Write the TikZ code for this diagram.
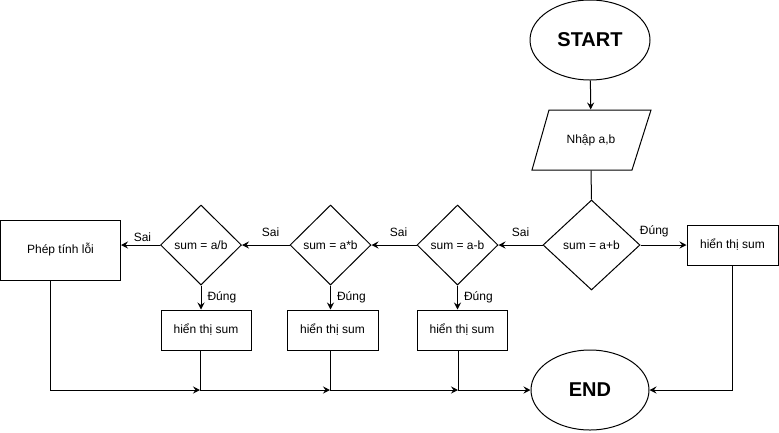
\documentclass[tikz,border=0pt]{standalone}
\usepackage{fontspec}
\setmainfont{Liberation Sans}
\usetikzlibrary{shapes.geometric,arrows.meta}
\begin{document}
\begin{tikzpicture}[x=1pt,y=-1pt,
  every node/.style={font=\fontsize{12}{14}\selectfont, inner sep=0pt},
  term/.style={draw, ellipse, font=\fontsize{20}{24}\selectfont\bfseries},
  dec/.style={draw, diamond, minimum width=81, minimum height=80},
  box/.style={draw, rectangle, minimum width=90, minimum height=40},
  lbl/.style={font=\fontsize{12}{14}\selectfont},
  arr/.style={-{Stealth[length=7pt,width=7pt,inset=2.5pt]}},
  line width=1pt]
\useasboundingbox (0,0) rectangle (779,432);
\node[term, minimum width=120, minimum height=80] (start) at (590,40) {START};
\draw (549,110) -- (651,110) -- (632,170) -- (532,170) -- cycle;
\node[minimum width=100, minimum height=60] (in) at (591,140) {Nhập a,b};
\node[dec, minimum width=97, minimum height=90] (d1) at (591.5,245) {sum = a+b};
\node[dec] (d2) at (457.5,245) {sum = a-b};
\node[dec] (d3) at (330.5,245) {sum = a*b};
\node[dec] (d4) at (201,245) {sum = a/b};
\node[box, minimum width=91] (r0) at (732.5,245) {hiển thị sum};
\node[box, minimum width=120, minimum height=60] (err) at (60.5,250) {Phép tính lỗi};
\node[box] (r1) at (206,330) {hiển thị sum};
\node[box, minimum width=91] (r2) at (332.5,330) {hiển thị sum};
\node[box] (r3) at (462,330) {hiển thị sum};
\node[term, minimum width=118, minimum height=80] (end) at (590,390) {END};
\coordinate (j1) at (200,390);
\coordinate (j2) at (330,390);
\coordinate (j3) at (458,390);
\coordinate (e0) at (50.5,280);
% connectors
\draw[arr] (start) -- (in);
\draw (in.south) -- (d1.north);
\draw[arr] (d1.east) -- (r0.west) node[lbl, pos=0.3, above=8pt] {Đúng};
\draw[arr] (d1.west) -- (d2.east) node[lbl, midway, above=8pt] {Sai};
\draw[arr] (d2.west) -- (d3.east) node[lbl, pos=0.4, above=8pt] {Sai};
\draw[arr] (d3.west) -- (d4.east) node[lbl, pos=0.4, above=8pt] {Sai};
\draw[arr] (d4.west) -- (d4.west -| err.east) node[lbl, pos=0.45, above=3pt] {Sai};
\draw[arr] (d4.south) -- (d4.south |- r1.north) node[lbl, midway, right=6pt] {Đúng};
\draw[arr] (d3.south) -- (d3.south |- r2.north) node[lbl, midway, right=6pt] {Đúng};
\draw[arr] (d2.south) -- (d2.south |- r3.north) node[lbl, midway, right=6pt] {Đúng};
\draw[arr] (e0) |- (j1);
\draw (r1.south -| j1) -- (j1);
\draw[arr] (j1) -- (j2);
\draw (r2.south -| j2) -- (j2);
\draw[arr] (j2) -- (j3);
\draw (r3.south -| j3) -- (j3);
\draw[arr] (j3) -- (end.west);
\draw[arr] (r0.south) |- (end.east);
\end{tikzpicture}
\end{document}
